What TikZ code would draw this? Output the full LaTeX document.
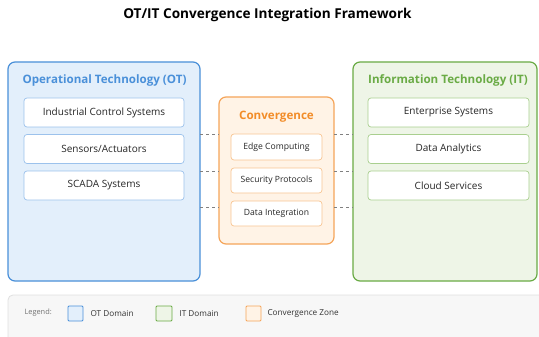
\documentclass[tikz,border=0pt]{standalone}
\usepackage{fontspec}
\setmainfont{Open Sans}
\definecolor{otb}{HTML}{4A90D9}
\definecolor{otf}{HTML}{E3EFFB}
\definecolor{otc}{HTML}{9CC2EC}
\definecolor{itb}{HTML}{6AAB45}
\definecolor{itf}{HTML}{EEF5E7}
\definecolor{itc}{HTML}{A9CF8F}
\definecolor{cvb}{HTML}{F5A55A}
\definecolor{cvf}{HTML}{FFF3E6}
\definecolor{cvc}{HTML}{F8C592}
\definecolor{cvt}{HTML}{F28C28}
\definecolor{dash}{HTML}{808080}
\tikzset{
  domain/.style={draw=#1, line width=1.2pt, rounded corners=7pt},
  item/.style={draw=#1, fill=white, line width=0.7pt, rounded corners=3pt, font=\fontsize{10}{12}\selectfont, text=black!85},
  citem/.style={draw=cvc, fill=white, line width=0.7pt, rounded corners=3pt, font=\fontsize{8.6}{10}\selectfont, text=black!85},
  link/.style={draw=dash, line width=0.8pt, dash pattern=on 3pt off 3pt},
  swatch/.style={draw=#1, line width=0.8pt, rounded corners=1pt},
  legtxt/.style={font=\fontsize{8.2}{10}\selectfont, text=black!80, anchor=west},
  dtitle/.style={font=\bfseries\fontsize{11.6}{13}\selectfont}
}
\begin{document}
\begin{tikzpicture}[x=1pt,y=-1pt]
\useasboundingbox (0,0) rectangle (539,337);
\fill[white] (0,0) rectangle (539,337);
\node[font=\bfseries\fontsize{13.6}{15}\selectfont] (title) at (267.5,15) {OT/IT Convergence Integration Framework};
% OT domain
\path[domain=otb, fill=otf] (8,62) rectangle (200,281);
\node[dtitle, text=otb] (ottitle) at (104.5,80.5) {Operational Technology (OT)};
\node[item=otc, minimum width=160pt, minimum height=29pt] (ot1) at (104,112.5) {Industrial Control Systems};
\node[item=otc, minimum width=160pt, minimum height=29pt] (ot2) at (104,149) {Sensors/Actuators};
\node[item=otc, minimum width=160pt, minimum height=29pt] (ot3) at (104,185.5) {SCADA Systems};
% IT domain
\path[domain=itb, fill=itf] (353,62) rectangle (537,281);
\node[dtitle, text=itb] (ittitle) at (448,80.5) {Information Technology (IT)};
\node[item=itc, minimum width=161pt, minimum height=29pt] (it1) at (448.5,112.5) {Enterprise Systems};
\node[item=itc, minimum width=161pt, minimum height=29pt] (it2) at (448.5,149) {Data Analytics};
\node[item=itc, minimum width=161pt, minimum height=29pt] (it3) at (448.5,185.5) {Cloud Services};
% Convergence
\path[domain=cvb, fill=cvf] (219,97) rectangle (334,244);
\node[dtitle, text=cvt] (cvtitle) at (276.5,116.5) {Convergence};
\node[citem, minimum width=91pt, minimum height=26pt] (cv1) at (276.5,147) {Edge Computing};
\node[citem, minimum width=91pt, minimum height=25pt] (cv2) at (276.5,180.5) {Security Protocols};
\node[citem, minimum width=91pt, minimum height=25pt] (cv3) at (276.5,213.5) {Data Integration};
% connectors
\coordinate (la) at (200,134); \coordinate (lb) at (219,134);
\coordinate (lc) at (200,171); \coordinate (ld) at (219,171);
\coordinate (le) at (200,207); \coordinate (lf) at (219,207);
\coordinate (ra) at (334,134); \coordinate (rb) at (353,134);
\coordinate (rc) at (334,171); \coordinate (rd) at (353,171);
\coordinate (re) at (334,207); \coordinate (rf) at (353,207);
\draw[link] (la) -- (lb); \draw[link] (lc) -- (ld); \draw[link] (le) -- (lf);
\draw[link] (ra) -- (rb); \draw[link] (rc) -- (rd); \draw[link] (re) -- (rf);
% legend
\path[draw=black!12, fill=black!3, line width=0.8pt, rounded corners=5pt] (8,295) rectangle (560,360);
\node[legtxt, text=black!55, font=\fontsize{7.4}{9}\selectfont] (legend) at (21,313) {Legend:};
\path[swatch=otb, fill=otf] (68,306) rectangle (83,321);
\node[legtxt] (lot) at (87,314) {OT Domain};
\path[swatch=itb, fill=itf] (156,306) rectangle (172,321);
\node[legtxt] (lit) at (176,314) {IT Domain};
\path[swatch=cvb, fill=cvf] (246,306) rectangle (261,321);
\node[legtxt] (lcv) at (264,314) {Convergence Zone};
\end{tikzpicture}
\end{document}
